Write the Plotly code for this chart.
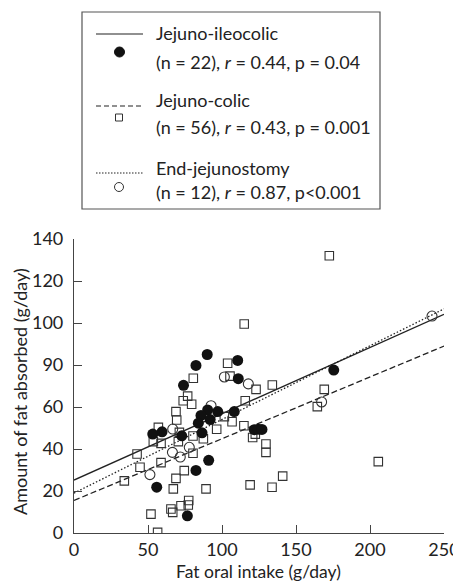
import plotly.graph_objects as go

# ---- data ----
ileo_x = [90, 82.4, 74, 110.6, 111, 90.3, 97.1, 108.3, 85.8, 92, 84, 53.2, 59.5,
          72.8, 86.5, 91, 82.4, 55.9, 76.6, 121.8, 124.5, 127, 175.5]
ileo_y = [85, 79.8, 70.3, 82.2, 73.5, 58.6, 57.8, 57.8, 56, 54, 52.3, 47.1, 48.2,
          46.3, 47.7, 34.6, 29.8, 21.8, 8.2, 49.2, 49.4, 49.3, 77.6]

colic_x = [115, 172.5, 80.6, 103.8, 105.4, 123, 76.8, 73.8, 79.5, 115.7, 68.9, 69.4,
           101.6, 106.8, 114.8, 57, 53.6, 58.8, 71.2, 70.5, 80.4, 87.4, 96.4, 42.6,
           80.4, 58.8, 44.6, 34, 74.5, 68.9, 67.1, 89.2, 119, 77.5, 77.2, 72.3, 65.5,
           66.7, 52, 56.5, 120.7, 122.5, 129.7, 129.7, 205.6, 141, 133.8, 134, 169.1,
           164.4]
colic_y = [99.5, 132, 73.7, 80.8, 74.7, 68.4, 65.2, 63, 61.3, 63, 57.8, 53.8,
           55.4, 53, 51.1, 50.3, 43.5, 42.7, 47.9, 43.5, 46.2, 44.9, 49.4, 37.6,
           38, 33.5, 31.3, 24.8, 29.7, 26, 21, 21, 22.9, 15.5, 13.3, 13, 11.4,
           9.8, 9, 0.3, 45.5, 47.1, 42.4, 38.4, 34, 27.1, 21.8, 70.5, 68.4,
           60.2]

endj_x = [241.9, 167.3, 117.8, 101.6, 92.6, 66.7, 66.5, 71.8, 77.9, 51.3]
endj_y = [103.3, 62.4, 71, 74.3, 60.6, 49.5, 38.4, 36.2, 40.8, 27.8]

# regression lines: value at x = 0 and at x = 250
fit_x = [0, 250]
fit_ileo = [25.2, 104.1]
fit_colic = [15.5, 89.0]
fit_endj = [19.0, 106.7]

x_ticks = [0, 50, 100, 150, 200, 250]
y_ticks = [0, 20, 40, 60, 80, 100, 120, 140]
y_ticktext = ["0", "20", "40", "60", "90", "100", "120", "140"]

FONT = "Lato"
INK = "#222222"
FS = 18

fig = go.Figure()
fig.add_trace(go.Scatter(x=fit_x, y=fit_ileo, mode="lines",
                         line=dict(color=INK, width=1.3)))
fig.add_trace(go.Scatter(x=fit_x, y=fit_colic, mode="lines",
                         line=dict(color=INK, width=1.3, dash="6px,3px")))
fig.add_trace(go.Scatter(x=fit_x, y=fit_endj, mode="lines",
                         line=dict(color=INK, width=1.3, dash="1.5px,2px")))
fig.add_trace(go.Scatter(x=colic_x, y=colic_y, mode="markers",
                         marker=dict(symbol="square-open", size=8.5, color="#333333",
                                     line=dict(width=1.1))))
fig.add_trace(go.Scatter(x=endj_x, y=endj_y, mode="markers",
                         marker=dict(symbol="circle-open", size=10, color="#333333",
                                     line=dict(width=1.1))))
fig.add_trace(go.Scatter(x=ileo_x, y=ileo_y, mode="markers",
                         marker=dict(symbol="circle", size=11, color="#111111",
                                     line=dict(width=0))))

# page offset (browser body margin)
OFF = 8
L, R, T, B = 74, 444, 239, 533          # plot area, page pixels
W, H = 461 - OFF, 583 - OFF


def px(x):
    return (x - L) / (R - L)


def py(y):
    return (B - y) / (B - T)


shapes = []
# legend box
shapes.append(dict(type="rect", xref="paper", yref="paper",
                   x0=px(82), x1=px(380), y0=py(12), y1=py(209),
                   line=dict(color="#555555", width=1.2), fillcolor="rgba(0,0,0,0)"))
# legend line samples
for yy, dash in [(34, "solid"), (106, "5px,3px"), (173, "1.5px,1.5px")]:
    shapes.append(dict(type="line", xref="paper", yref="paper",
                       x0=px(96), x1=px(143), y0=py(yy), y1=py(yy),
                       line=dict(color=INK, width=1.2, dash=dash)))
# legend markers
shapes.append(dict(type="circle", xref="paper", yref="paper",
                   x0=px(114.5), x1=px(124.5), y0=py(57), y1=py(47),
                   fillcolor="#111111", line=dict(color="#111111", width=1)))
shapes.append(dict(type="rect", xref="paper", yref="paper",
                   x0=px(115.5), x1=px(122.5), y0=py(121), y1=py(114),
                   fillcolor="white", line=dict(color="#333333", width=1)))
shapes.append(dict(type="circle", xref="paper", yref="paper",
                   x0=px(114.5), x1=px(123.5), y0=py(191.5), y1=py(182.5),
                   fillcolor="white", line=dict(color="#333333", width=1)))

legend_text = [
    (33, "Jejuno-ileocolic"),
    (62, "(n = 22), <i>r</i> = 0.44, p = 0.04"),
    (100, "Jejuno-colic"),
    (127, "(n = 56), <i>r</i> = 0.43, p = 0.001"),
    (168, "End-jejunostomy"),
    (192, "(n = 12), <i>r</i> = 0.87, p<0.001"),
]
annotations = []
for yy, txt in legend_text:
    annotations.append(dict(xref="paper", yref="paper", x=px(154), y=py(yy),
                            text=txt, showarrow=False, xanchor="left",
                            yanchor="middle",
                            font=dict(family=FONT, size=FS, color=INK)))
# axis titles
annotations.append(dict(xref="paper", yref="paper", x=px(258), y=py(571),
                        text="Fat oral intake (g/day)", showarrow=False,
                        xanchor="center", yanchor="middle",
                        font=dict(family=FONT, size=17.5, color=INK)))
annotations.append(dict(xref="paper", yref="paper", x=px(20), y=py(392),
                        text="Amount of fat absorbed (g/day)", showarrow=False,
                        textangle=-90, xanchor="center", yanchor="middle",
                        font=dict(family=FONT, size=FS, color=INK)))

fig.update_layout(
    width=W, height=H,
    margin=dict(l=L - OFF, r=W - (R - OFF), t=T - OFF, b=H - (B - OFF), pad=0),
    paper_bgcolor="white", plot_bgcolor="white",
    showlegend=False,
    shapes=shapes, annotations=annotations,
    font=dict(family=FONT, size=FS, color=INK),
    xaxis=dict(range=[0, 250], tickvals=x_ticks, ticks="inside", ticklen=8,
               tickcolor="#444444", showline=True, linecolor="#444444",
               linewidth=1.2, showgrid=False, zeroline=False, automargin=False,
               ticklabelstandoff=0, tickfont=dict(size=FS)),
    yaxis=dict(range=[0, 140], tickvals=y_ticks, ticktext=y_ticktext,
               ticks="inside", ticklen=8, tickcolor="#444444", showline=True,
               linecolor="#444444", linewidth=1.2, showgrid=False, zeroline=False,
               automargin=False, ticklabelstandoff=6, tickfont=dict(size=FS)),
)

fig.write_html("out.html")
